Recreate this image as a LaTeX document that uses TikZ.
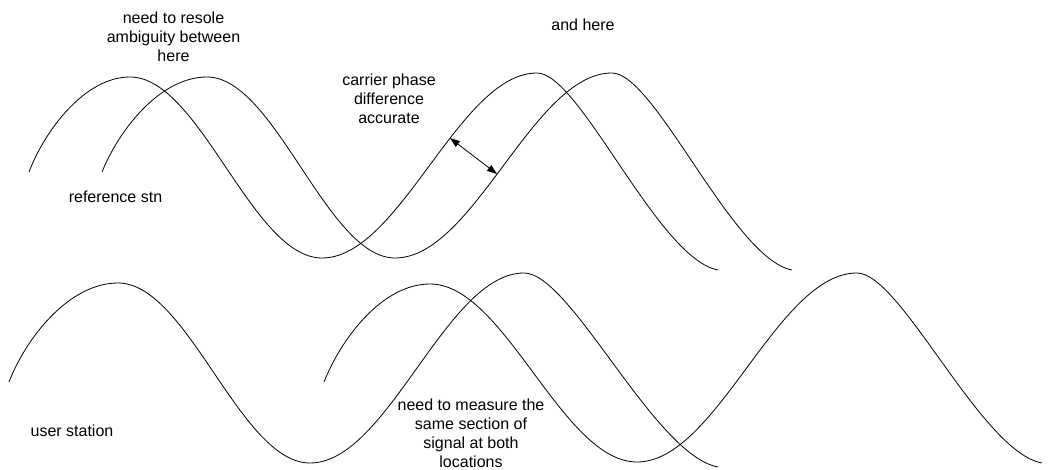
\documentclass[tikz,border=0pt]{standalone}
\usepackage{fontspec}
\setmainfont{Liberation Sans}
\usetikzlibrary{arrows.meta}
\tikzset{
  wave/.style={draw=black, line width=0.8pt},
  lbl/.style={inner sep=0pt, align=center, font=\fontsize{16}{19}\selectfont},
  dimarrow/.style={draw=black, line width=0.8pt,
    {Triangle[length=10pt,width=7pt]}-{Triangle[length=10pt,width=7pt]}}
}
\begin{document}
\begin{tikzpicture}[x=1pt, y=-1pt]
\useasboundingbox (0,0) rectangle (1053,470);
% reference station waves
\path[wave] (29,172) .. controls (45,130) and (85,77) .. (130,77)
  .. controls (200,77) and (252,258) .. (322,258)
  .. controls (400,258) and (459,73) .. (537,73)
  .. controls (580,73) and (658,259) .. (718,270);
\path[wave] (102,172) .. controls (119,130) and (160,77) .. (207,77)
  .. controls (275,77) and (327,258) .. (395,258)
  .. controls (474,258) and (533,73) .. (612,73)
  .. controls (655,73) and (733,259) .. (792,270);
% user station waves
\path[wave] (9,382) .. controls (26,338) and (69,283) .. (118,283)
  .. controls (188,283) and (240,463) .. (310,463)
  .. controls (388,463) and (446,273) .. (524,273)
  .. controls (571,273) and (654,455) .. (718,467);
\path[wave] (324,382) .. controls (341,339) and (382,284) .. (430,284)
  .. controls (505,284) and (562,462) .. (637,462)
  .. controls (717,462) and (777,273) .. (857,273)
  .. controls (901,273) and (981,452) .. (1042,463);
% phase difference arrow
\coordinate (a1) at (450,138);
\coordinate (a2) at (497,174);
\draw[dimarrow] (a1) -- (a2);
% labels
\node[lbl] (n1) at (173.5,37) {need to resole\\ambiguity between\\here};
\node[lbl] (n2) at (583,24.5) {and here};
\node[lbl] (n3) at (389,98.3) {carrier phase\\difference\\accurate};
\node[lbl] (n4) at (115.5,196.5) {reference stn};
\node[lbl] (n5) at (72,431) {user station};
\node[lbl] (n6) at (471,433.5) {need to measure the\\same section of\\signal at both\\locations};
\end{tikzpicture}
\end{document}
